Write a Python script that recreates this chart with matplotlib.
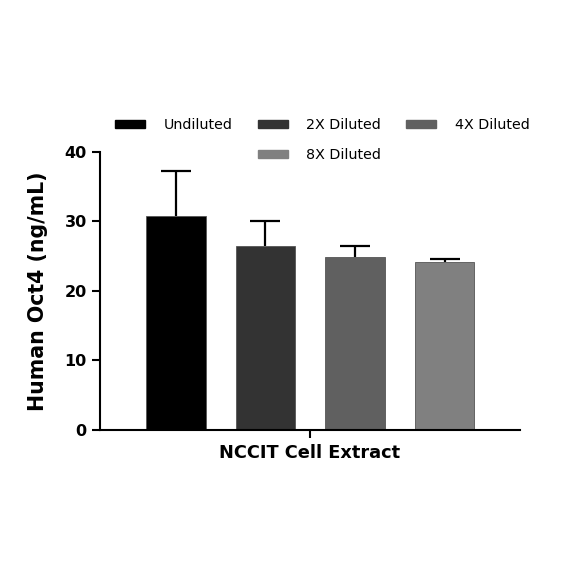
#!/usr/bin/env python3
"""Human Oct4 levels in NCCIT cell extract at several dilutions."""

import matplotlib

matplotlib.use("Agg")
import matplotlib.pyplot as plt
from matplotlib.patches import Patch

# data
series = ["Undiluted", "2X Diluted", "4X Diluted", "8X Diluted"]
means = [30.8, 26.4, 24.8, 24.2]
errors = [6.4, 3.6, 1.7, 0.4]
bar_colors = ["#000000", "#333333", "#606060", "#808080"]
category = "NCCIT Cell Extract"
y_label = "Human Oct4 (ng/mL)"
y_ticks = [0, 10, 20, 30, 40]


def main() -> None:
    plt.rcParams["font.family"] = ["DejaVu Sans"]
    fig = plt.figure(figsize=(5.84, 5.84), dpi=100)
    ax = fig.add_axes([0.171, 0.264, 0.719, 0.476])

    handles = []
    for i, (name, mean, err, color) in enumerate(zip(series, means, errors, bar_colors)):
        ax.bar(i, mean, width=0.66, color=color, edgecolor="#555555", linewidth=0.6, zorder=2)
        _line, caps, _bars = ax.errorbar(i, mean, yerr=[[0], [err]], fmt="none", ecolor="black",
                                         elinewidth=1.6, capsize=11, capthick=1.6, zorder=1)
        # only the upper whisker is shown
        caps[0].set_visible(False)
        handles.append(Patch(facecolor=color, edgecolor=color, label=name))

    ax.set_xlim(-0.85, 3.84)
    ax.set_ylim(0, 40)
    ax.set_yticks(y_ticks)
    ax.set_xticks([1.5])
    ax.set_xticklabels([""])
    ax.set_xlabel(category, fontsize=12.8, fontweight="bold", labelpad=1)
    ax.set_ylabel(y_label, fontsize=14.8, fontweight="bold", labelpad=12)
    for lbl in ax.get_yticklabels():
        lbl.set_fontweight("bold")
    ax.tick_params(axis="both", labelsize=11.5, width=1.5, length=6, direction="out")
    for side in ("top", "right"):
        ax.spines[side].set_visible(False)
    for side in ("left", "bottom"):
        ax.spines[side].set_linewidth(1.5)

    blank = Patch(facecolor="none", edgecolor="none", label="")
    order = [handles[0], blank, handles[1], handles[3], handles[2], blank]
    fig.legend(handles=order, labels=[h.get_label() for h in order], ncol=3,
               loc="center", bbox_to_anchor=(0.552, 0.760), frameon=False,
               fontsize=10.3, handlelength=2.1, handleheight=0.45,
               columnspacing=1.75, labelspacing=1.1, handletextpad=1.3)

    fig.savefig("out.png", dpi=100)
    plt.close(fig)


if __name__ == "__main__":
    main()
